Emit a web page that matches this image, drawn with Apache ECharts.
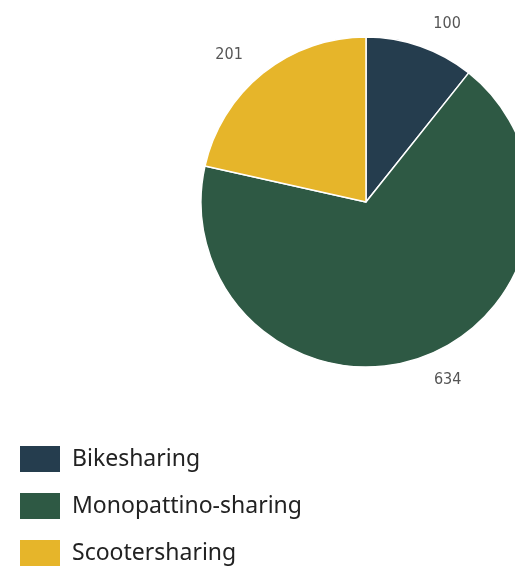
<!DOCTYPE html>
<html lang="en">
<head>
    <meta charset="UTF-8">
    <script src="https://cdn.jsdelivr.net/npm/echarts@6/dist/echarts.min.js"></script>
    <title>Sharing</title>
    <style>
        html, body { margin: 0; padding: 0; background: #fff; }
        #main { width: 515px; height: 572px; }
    </style>
</head>
<body>
<div id="main"></div>
<script type="text/javascript">
    var categories = ['Bikesharing', 'Monopattino-sharing', 'Scootersharing'];
    var values = [100, 634, 201];
    var colors = ['#253d4e', '#2e5944', '#e6b52a'];

    var pieData = [];
    for (var i = 0; i < categories.length; i++) {
        pieData.push({
            name: categories[i],
            value: values[i],
            itemStyle: { color: colors[i] }
        });
    }

    var myChart = echarts.init(document.getElementById('main'));
    var option = {
        backgroundColor: '#fff',
        animation: false,
        legend: {
            orient: 'vertical',
            left: 18,
            top: 444,
            height: 180,
            padding: 0,
            itemWidth: 42,
            itemHeight: 28,
            itemGap: 17,
            icon: 'rect',
            textStyle: {
                color: '#222',
                fontSize: 23,
                fontFamily: 'Noto Sans',
                padding: [0, 0, 0, 6]
            },
            data: categories
        },
        series: [{
            type: 'pie',
            center: [366, 202],
            radius: 165,
            startAngle: 90,
            clockwise: true,
            itemStyle: {
                borderColor: '#fff',
                borderWidth: 1.5
            },
            label: {
                show: true,
                position: 'outside',
                color: '#555',
                fontSize: 16,
                fontFamily: 'DejaVu Sans Condensed',
                formatter: '{c}'
            },
            labelLine: {
                show: false,
                length: 24,
                length2: 0
            },
            data: pieData
        }]
    };
    myChart.setOption(option);
</script>
</body>
</html>
